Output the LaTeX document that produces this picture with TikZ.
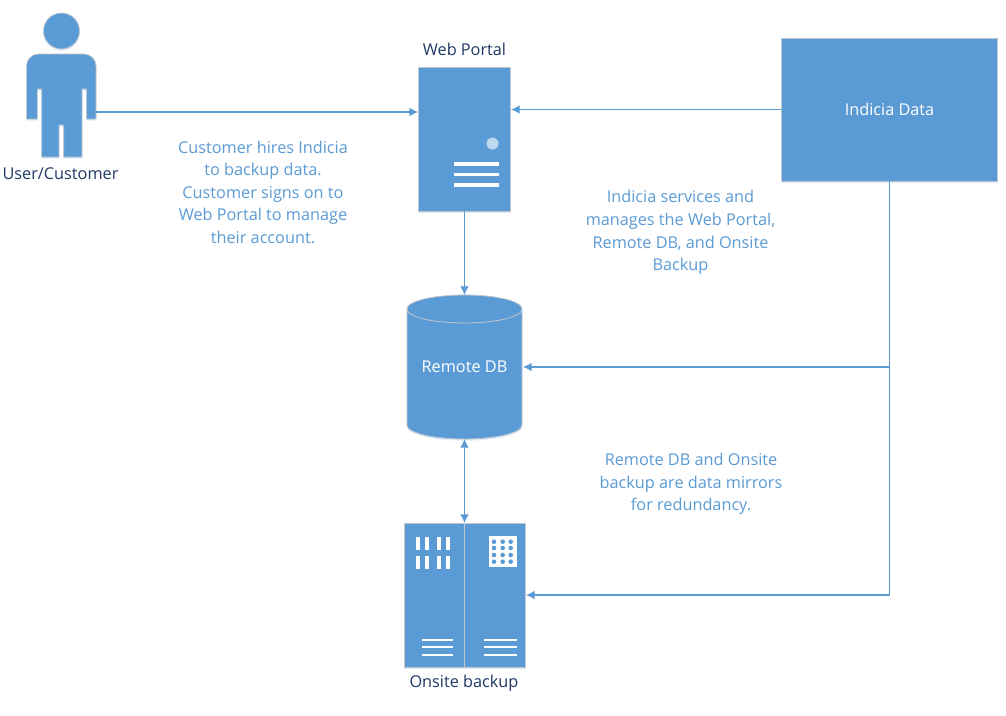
\documentclass[tikz,border=0pt]{standalone}
\usepackage{fontspec}
\setmainfont{Open Sans}
\usetikzlibrary{arrows.meta, shadows}
\definecolor{boxblue}{HTML}{5B9BD5}
\definecolor{edgegray}{HTML}{BFC6CE}
\definecolor{titleblue}{HTML}{1F3864}
\tikzset{
  glyph/.style={fill=boxblue, draw=edgegray, line width=.6pt, drop shadow={shadow xshift=0pt, shadow yshift=-1.2pt, fill=boxblue, opacity=.2}},
  block/.style={glyph, inner sep=0pt, text=white},
  title/.style={text=titleblue, font=\fontsize{12.2}{14}\selectfont},
  note/.style={text=boxblue, align=center, font=\fontsize{12.2}{16.9}\selectfont},
  link/.style={boxblue, line width=.9pt, -{Latex[length=6.5pt,width=6.5pt]}},
  bars/.style={white, line width=1.9pt},
}
\begin{document}
\begin{tikzpicture}[x=.75pt, y=-.75pt]
    \useasboundingbox (0,0) rectangle (1006,715);
    % person
    \fill[white] (0,0) rectangle (1006,715);
    \path[glyph, rounded corners=9pt] (26.5,119) -- (26.5,54) -- (96,54)
        [sharp corners] -- (96,119) -- (86.5,119) -- (86.5,89) -- (82,89) -- (82,157) -- (63.7,157)
        -- (63.7,125) -- (59,125) -- (59,157) -- (41.7,157) -- (41.7,89)
        -- (37.3,89) -- (37.3,119) -- cycle;
    \path[glyph] (61.5,31) circle (18);
    \coordinate (user) at (96,112);
    \node[title] (userlabel) at (60.5,173.5) {User/Customer};
    % servers
    \node[block, minimum width=69pt, minimum height=107.6pt] (portal) at (464.5,139.2) {};
    \node[title] (portallabel) at (464.5,49.5) {Web Portal};
    \fill[boxblue!40!white] (492.5,143.5) circle (6);
    \foreach \y in {164,174.5,185}
        \draw[bars, line width=2.4pt] (453.5,\y) -- (498.5,\y);
    \node[block, minimum width=90.8pt, minimum height=107.6pt] (onsite) at (465,595.2) {};
    \draw[edgegray, line width=.8pt] (464.5,523.5) -- (464.5,667);
    \node[title] (onsitelabel) at (464,683.5) {Onsite backup};
    \foreach \x in {417.7,426.7,439,448}
        \foreach \y in {543,562}
            \draw[bars, line width=2.8pt] (\x,\y-6.5) -- (\x,\y+6.5);
    \fill[white] (489.3,536) rectangle (516.7,567);
    \foreach \x in {494,502.7,510.7}
        \foreach \y in {541.7,548,555,561.7}
            \fill[boxblue] (\x,\y) circle (2.3);
    \foreach \x/\w in {422.3/31,484.3/32.4}
        \foreach \y in {640,647,655}
            \draw[bars] (\x,\y) -- (\x+\w,\y);
    % database
    \path[glyph] (407,309) .. controls (407,301) and (433,295) .. (464.5,295)
        .. controls (496,295) and (522,301) .. (522,309)
        -- (522,425) .. controls (522,433) and (496,439) .. (464.5,439)
        .. controls (433,439) and (407,433) .. (407,425) -- cycle;
    \draw[edgegray, line width=.6pt] (407,309) .. controls (407,317) and (433,323) .. (464.5,323)
        .. controls (496,323) and (522,317) .. (522,309);
    \node[text=white, font=\fontsize{12.2}{14}\selectfont] (db) at (464.5,366.5) {Remote DB};
    \coordinate (dbtop) at (464.5,295);
    \coordinate (dbbottom) at (464.5,439);
    \coordinate (dbright) at (523,367);
    % data
    \node[block, minimum width=161.6pt, minimum height=107.2pt, font=\fontsize{12.2}{14}\selectfont] (indicia) at (889.5,109.5) {Indicia Data};
    % links
    \coordinate (portalin) at (portal.west |- user);
    \draw[link] (user) -- (portalin);
    \coordinate (portalright) at (511,109.5);
    \draw[link] (indicia.west) -- (portalright);
    \draw[link] (portal.south) -- (dbtop);
    \draw[link, {Latex[length=6.5pt,width=6.5pt]}-{Latex[length=6.5pt,width=6.5pt]}] (dbbottom) -- (onsite.north -| dbbottom);
    \coordinate (trunkdb) at (889.5,367);
    \coordinate (trunkon) at (889.5,595);
    \coordinate (onsiteright) at (526,595);
    \draw[link] (indicia.south) -- (trunkdb) -- (dbright);
    \draw[link] (trunkdb) -- (trunkon) -- (onsiteright);
    % notes
    \node[note] (hire) at (263,192) {Customer hires Indicia\\to backup data.\\Customer signs on to\\Web Portal to manage\\their account.};
    \node[note] (manage) at (680.5,232.5) {Indicia services and\\manages the Web Portal,\\Remote DB, and Onsite\\Backup};
    \node[note] (mirror) at (691,484) {Remote DB and Onsite\\backup are data mirrors\\for redundancy.};
\end{tikzpicture}
\end{document}
